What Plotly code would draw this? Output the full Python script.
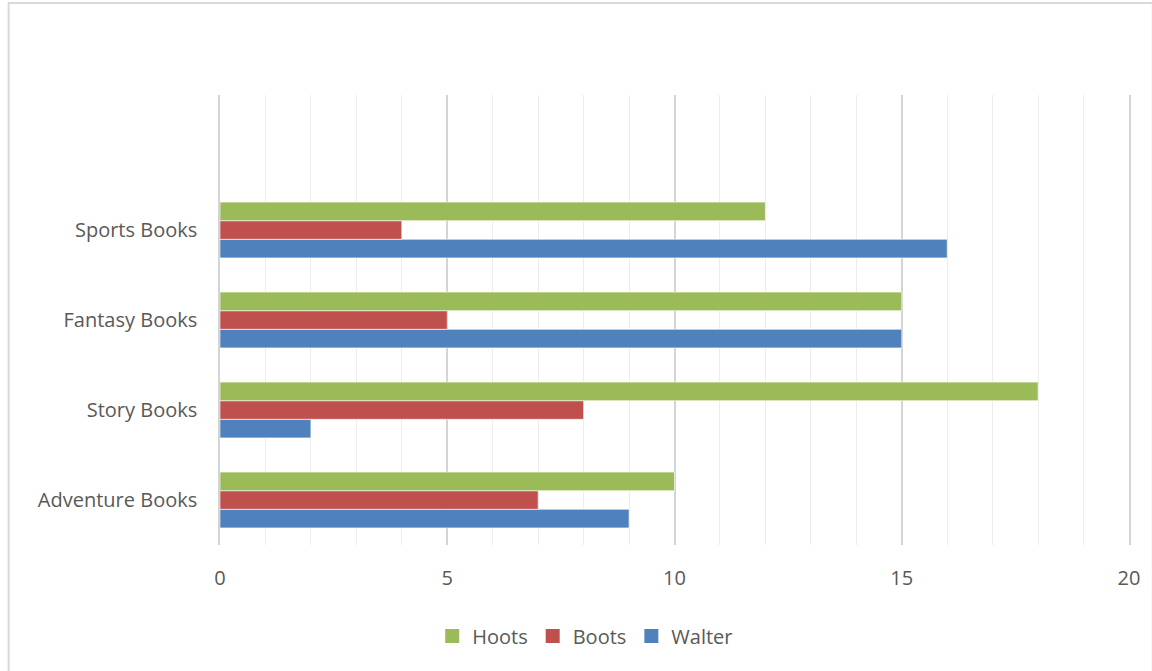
import plotly.graph_objects as go

categories = ["Adventure Books", "Story Books", "Fantasy Books", "Sports Books"]
walter = [9, 2, 15, 16]
boots = [7, 8, 5, 4]
hoots = [10, 18, 15, 12]
x_ticks = [0, 5, 10, 15, 20]

series = [("Walter", walter, "#4F81BD"), ("Boots", boots, "#C0504D"), ("Hoots", hoots, "#9BBB59")]

fig = go.Figure()
for name, vals, color in series:
    fig.add_trace(go.Bar(
        y=categories, x=vals, name=name, orientation="h", showlegend=False,
        marker=dict(color=color, line=dict(color="rgba(255,255,255,0.6)", width=1)),
    ))
# legend entries with larger square markers
for name, vals, color in series:
    fig.add_trace(go.Scatter(
        x=[None], y=[None], mode="markers", name=name,
        marker=dict(symbol="square", size=14, color=color),
    ))

font = "'Open Sans', 'Noto Sans', sans-serif"
fig.update_layout(
    width=1152, height=671, autosize=False,
    margin=dict(l=220, r=16, t=95, b=126),
    paper_bgcolor="white", plot_bgcolor="white",
    barmode="group", bargap=0.38, bargroupgap=0,
    font=dict(family=font, size=20, color="#595959"),
    showlegend=True,
    legend=dict(orientation="h", traceorder="reversed", xref="container", yref="container",
                x=0.508, xanchor="center", y=0.052, yanchor="middle",
                font=dict(size=20, color="#595959"), itemwidth=30),
    xaxis=dict(range=[0, 20], tickvals=x_ticks, ticktext=[str(v) for v in x_ticks],
               showgrid=True, gridcolor="#D4D4D4", gridwidth=1.5, zeroline=False,
               showline=False, ticks="", ticklabelstandoff=19,
               minor=dict(dtick=1, showgrid=True, gridcolor="#EDEDED", gridwidth=1)),
    yaxis=dict(type="category", categoryorder="array", categoryarray=categories,
               range=[-0.5, 4.5], showgrid=False, zeroline=False,
               showline=True, mirror=True, linecolor="#D4D4D4", linewidth=1.5,
               ticks="", ticklabelstandoff=17),
    shapes=[dict(type="rect", xref="paper", yref="paper",
                 x0=(7 - 220) / 916, x1=(1160 - 220) / 916,
                 y0=(545 - 680) / 450, y1=(545 - 3) / 450,
                 line=dict(color="#D9D9D9", width=2), fillcolor="rgba(0,0,0,0)", layer="below")],
)

fig.write_html("out.html", config={"displayModeBar": False},
               post_script="document.body.style.margin='0';document.body.style.overflow='hidden';")
